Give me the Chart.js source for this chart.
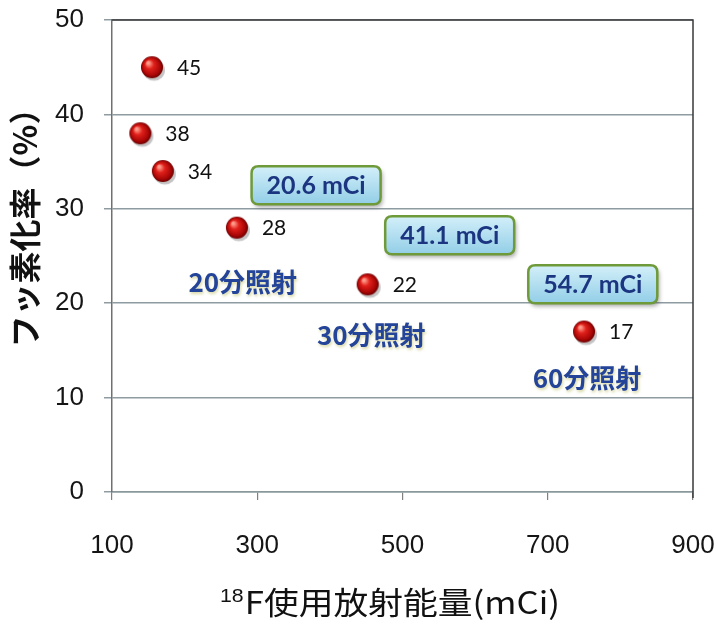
<!DOCTYPE html>
<html>
<head>
<meta charset="utf-8">
<script src="https://cdn.jsdelivr.net/npm/chart.js@4/dist/chart.umd.min.js"></script>
<style>
  html, body { margin: 0; padding: 0; background: #fff; }
  #wrap { width: 718px; height: 628px; }
</style>
</head>
<body>
<div id="wrap"><canvas id="c" width="718" height="628"></canvas></div>
<script>
// 18F activity used (mCi) and fluorination yield (%)
const activity = [155, 139, 170, 272, 452, 750];
const fluorination = [45, 38, 34, 28, 22, 17];
const xTickValues = [100, 300, 500, 700, 900];
const yTickValues = [0, 10, 20, 30, 40, 50];
const doseTexts = ['20.6 mCi', '41.1 mCi', '54.7 mCi'];
const timeTexts = ['20分照射', '30分照射', '60分照射'];

// Where the callouts sit, in axis units
const doseAnchors = [{ x: 381, y: 32.5 }, { x: 565, y: 27.2 }, { x: 762, y: 22.0 }];
const timeAnchors = [{ x: 280, y: 22.2 }, { x: 457, y: 16.6 }, { x: 754, y: 12.1 }];

const CJK = '"Noto Sans CJK JP", "Noto Sans", sans-serif';
const LATIN = '"Liberation Sans", Arial, sans-serif';

// Glossy red ball used as the point marker
function makeBall(r) {
  const size = r * 2 + 8;
  const cv = document.createElement('canvas');
  cv.width = size; cv.height = size;
  const g = cv.getContext('2d');
  const c = size / 2;
  // soft shadow
  g.fillStyle = 'rgba(90,90,90,0.35)';
  g.beginPath(); g.ellipse(c + 2, c + 3, r, r * 0.95, 0, 0, Math.PI * 2); g.fill();
  const grad = g.createRadialGradient(c - r * 0.35, c - r * 0.4, r * 0.1, c, c, r);
  grad.addColorStop(0, '#ff9c8c');
  grad.addColorStop(0.35, '#e0201a');
  grad.addColorStop(0.8, '#a80606');
  grad.addColorStop(1, '#6a0000');
  g.fillStyle = grad;
  g.beginPath(); g.arc(c, c, r, 0, Math.PI * 2); g.fill();
  return cv;
}
const ball = makeBall(11);

function roundRect(ctx, x, y, w, h, r) {
  ctx.beginPath();
  ctx.moveTo(x + r, y);
  ctx.lineTo(x + w - r, y);
  ctx.quadraticCurveTo(x + w, y, x + w, y + r);
  ctx.lineTo(x + w, y + h - r);
  ctx.quadraticCurveTo(x + w, y + h, x + w - r, y + h);
  ctx.lineTo(x + r, y + h);
  ctx.quadraticCurveTo(x, y + h, x, y + h - r);
  ctx.lineTo(x, y + r);
  ctx.quadraticCurveTo(x, y, x + r, y);
  ctx.closePath();
}

const decorations = {
  id: 'decorations',
  beforeDatasetsDraw(chart) {
    const { ctx, chartArea: a } = chart;
    ctx.save();
    ctx.strokeStyle = '#3a3a3a';
    ctx.lineWidth = 1.5;
    ctx.beginPath();
    ctx.moveTo(a.left, a.top); ctx.lineTo(a.right, a.top); ctx.lineTo(a.right, a.bottom + 6);
    ctx.stroke();
    ctx.restore();
  },
  afterDatasetsDraw(chart) {
    const { ctx, scales: { x, y } } = chart;
    ctx.save();
    // value labels beside each point
    const meta = chart.getDatasetMeta(0);
    ctx.font = '21px Lato, "Open Sans", sans-serif';
    ctx.fillStyle = '#111';
    ctx.textAlign = 'left';
    ctx.textBaseline = 'middle';
    meta.data.forEach((pt, i) => {
      ctx.fillText(String(fluorination[i]), pt.x + 25, pt.y + 1);
    });

    // dose callouts
    doseTexts.forEach((t, i) => {
      const cx = x.getPixelForValue(doseAnchors[i].x);
      const cy = y.getPixelForValue(doseAnchors[i].y);
      const w = 129, h = 38;
      ctx.save();
      ctx.shadowColor = 'rgba(60,60,60,0.45)';
      ctx.shadowOffsetX = 2; ctx.shadowOffsetY = 3; ctx.shadowBlur = 4;
      const grad = ctx.createLinearGradient(0, cy - h / 2, 0, cy + h / 2);
      grad.addColorStop(0, '#d3eff9');
      grad.addColorStop(1, '#92cee7');
      ctx.fillStyle = grad;
      roundRect(ctx, cx - w / 2, cy - h / 2, w, h, 7);
      ctx.fill();
      ctx.restore();
      ctx.strokeStyle = '#6e9a3a';
      ctx.lineWidth = 2.5;
      roundRect(ctx, cx - w / 2, cy - h / 2, w, h, 7);
      ctx.stroke();
      ctx.font = 'bold 25px Lato, "Open Sans", sans-serif';
      ctx.fillStyle = '#1b3580';
      ctx.textAlign = 'center';
      ctx.textBaseline = 'middle';
      ctx.fillText(t, cx, cy + 1);
    });

    // irradiation time labels, with a faint warm glow underneath
    ctx.save();
    ctx.font = 'bold 26px ' + CJK;
    ctx.fillStyle = '#24449a';
    ctx.textAlign = 'center';
    ctx.textBaseline = 'middle';
    ctx.shadowColor = 'rgba(170,170,60,0.45)';
    ctx.shadowOffsetX = 1; ctx.shadowOffsetY = 2; ctx.shadowBlur = 3;
    timeTexts.forEach((t, i) => {
      ctx.fillText(t, x.getPixelForValue(timeAnchors[i].x), y.getPixelForValue(timeAnchors[i].y));
    });
    ctx.restore();

    // y-axis title
    ctx.save();
    ctx.translate(25, 220);
    ctx.rotate(-Math.PI / 2);
    ctx.font = 'bold 32px ' + CJK;
    ctx.fillStyle = '#111';
    ctx.textAlign = 'center';
    ctx.textBaseline = 'middle';
    ctx.fillText('フッ素化率（%）', 0, 0);
    ctx.restore();

    // x-axis title with superscript mass number
    const main = 'F使用放射能量(mCi)';
    const sup = '18';
    ctx.fillStyle = '#111';
    ctx.textBaseline = 'alphabetic';
    ctx.textAlign = 'left';
    ctx.font = '19px ' + LATIN;
    const supW = ctx.measureText(sup).width;
    ctx.font = '31px ' + CJK;
    const mainW = ctx.measureText(main).width;
    const total = supW + 1 + mainW;
    const sx = 340 / total;
    ctx.save();
    ctx.translate(390 - 170, 614);
    ctx.scale(sx, 1);
    ctx.font = '19px ' + LATIN;
    ctx.fillText(sup, 0, -12);
    ctx.font = '31px ' + CJK;
    ctx.fillText(main, supW + 1, 0);
    ctx.restore();
    ctx.restore();
  }
};

new Chart(document.getElementById('c'), {
  type: 'scatter',
  data: {
    datasets: [{
      data: activity.map((v, i) => ({ x: v, y: fluorination[i] })),
      pointStyle: ball,
      pointRadius: 11,
      pointHoverRadius: 11
    }]
  },
  options: {
    responsive: false,
    animation: false,
    events: [],
    layout: { padding: { top: 20, right: 25, left: 0, bottom: 0 } },
    plugins: { legend: { display: false }, tooltip: { enabled: false } },
    scales: {
      x: {
        type: 'linear',
        min: 100, max: 900,
        afterBuildTicks: s => { s.ticks = xTickValues.map(v => ({ value: v })); },
        afterFit: s => { s.height = 136; s.paddingLeft = 0; s.paddingRight = 0; },
        ticks: { font: { size: 26, family: LATIN }, color: '#151515', padding: 30, maxRotation: 0 },
        grid: { drawOnChartArea: false, drawTicks: true, tickLength: 8, color: '#808080', lineWidth: 1.2 },
        border: { color: '#8a979c', width: 1.5 }
      },
      y: {
        min: 0, max: 50,
        afterBuildTicks: s => { s.ticks = yTickValues.map(v => ({ value: v })); },
        afterFit: s => { s.width = 112; s.paddingTop = 0; s.paddingBottom = 0; },
        ticks: { font: { size: 26, family: LATIN }, color: '#151515', padding: 20 },
        grid: { color: '#8e9ba1', lineWidth: 1.5, tickLength: 8 },
        border: { color: '#707070', width: 1.5 }
      }
    }
  },
  plugins: [decorations]
});
</script>
</body>
</html>
